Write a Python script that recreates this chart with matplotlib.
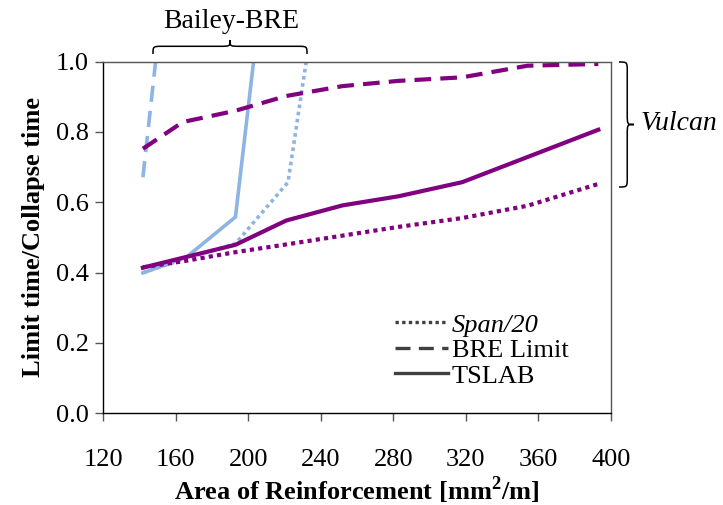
import matplotlib
matplotlib.use("Agg")
import matplotlib.pyplot as plt
from matplotlib.path import Path
from matplotlib.patches import PathPatch
from matplotlib.lines import Line2D

plt.rcParams['font.family'] = ['Liberation Serif', 'DejaVu Serif']
plt.rcParams['mathtext.fontset'] = 'custom'
plt.rcParams['mathtext.rm'] = 'Liberation Serif'
plt.rcParams['mathtext.bf'] = 'Liberation Serif:bold'

# ---- data ----
vul_x = [142, 164, 193, 221, 252, 283, 318, 354, 393]
vul_bre = [0.752, 0.828, 0.860, 0.902, 0.930, 0.945, 0.955, 0.988, 0.993]
vul_span = [0.415, 0.432, 0.458, 0.480, 0.505, 0.530, 0.555, 0.590, 0.652]
tslab_x = [142, 193, 221, 252, 283, 318, 393]
tslab_y = [0.414, 0.479, 0.548, 0.591, 0.617, 0.657, 0.806]

bb_tslab_x = [142, 166, 193, 203]
bb_tslab_y = [0.399, 0.444, 0.558, 1.0]
bb_span_x = [142, 166, 193, 222, 232]
bb_span_y = [0.400, 0.440, 0.482, 0.657, 1.0]
bb_bre_x = [142, 149]
bb_bre_y = [0.671, 1.0]

xticks = [120, 160, 200, 240, 280, 320, 360, 400]
yticks = [0.0, 0.2, 0.4, 0.6, 0.8, 1.0]

PURPLE = '#800080'
BLUE = '#8DB4E2'
W, H = 723, 505

fig = plt.figure(figsize=(W / 100, H / 100), dpi=100)
ax = fig.add_axes([103 / W, 1 - 413.3 / H, (611 - 103) / W, (413.3 - 61.5) / H])

lw_p = 3.0
lw_b = 2.6
ax.plot(bb_span_x, bb_span_y, color=BLUE, lw=lw_b, dashes=(1.0, 1.0), dash_capstyle='butt')
ax.plot(bb_bre_x, bb_bre_y, color=BLUE, lw=lw_b, dashes=(4.5, 2.5), dash_capstyle='butt')
ax.plot(bb_tslab_x, bb_tslab_y, color=BLUE, lw=lw_b, solid_joinstyle='miter')
ax.plot(vul_x, vul_span, color=PURPLE, lw=lw_p, dashes=(1.0, 1.0), dash_capstyle='butt')
ax.plot(vul_x, vul_bre, color=PURPLE, lw=lw_p, dashes=(4.0, 2.2), dash_capstyle='butt')
ax.plot(tslab_x, tslab_y, color=PURPLE, lw=lw_p)

ax.set_xlim(120, 400)
ax.set_ylim(0, 1.0)
ax.set_xticks(xticks)
ax.set_yticks(yticks)
ax.set_xticklabels([str(v) for v in xticks])
ax.set_yticklabels([f"{v:.1f}" for v in yticks])
ax.tick_params(axis='both', direction='out', length=6, width=1.0, color='#555555',
               labelsize=19, labelcolor='black')
ax.tick_params(axis='x', pad=20)
ax.tick_params(axis='y', pad=4)
for s in ['left', 'bottom']:
    ax.spines[s].set_color('black')
    ax.spines[s].set_linewidth(1.0)
for s in ['top', 'right']:
    ax.spines[s].set_color('#555555')
    ax.spines[s].set_linewidth(1.0)

ax.set_xlabel(r'Area of Reinforcement [mm$^\mathbf{2}$/m]', fontsize=19, fontweight='bold', labelpad=2)
ax.set_ylabel('Limit time/Collapse time', fontsize=19, fontweight='bold', labelpad=8)

handles = [Line2D([], [], color='#404040', lw=2.4, dashes=(1, 1), dash_capstyle='butt'),
           Line2D([], [], color='#404040', lw=2.4, dashes=(4.5, 2.5), dash_capstyle='butt'),
           Line2D([], [], color='#404040', lw=2.4)]
labels = ['Span/20', 'BRE Limit', 'TSLAB']
leg = ax.legend(handles, labels, loc='upper left', bbox_to_anchor=(0.575, 0.285),
                frameon=False, fontsize=19, handlelength=2.0, handletextpad=0.15,
                labelspacing=0.08, borderpad=0, borderaxespad=0)
leg.get_texts()[0].set_fontstyle('italic')

# ---- braces (figure pixel coords, y measured from top) ----
def px(x, y):
    return (x / W, 1 - y / H)

def hbrace(x0, x1, y_end, y_tip):
    xm = (x0 + x1) / 2
    d = (y_end - y_tip)
    yb = y_tip + d * 0.45
    r = 10
    verts = [px(x0, y_end), px(x0, yb), px(x0, yb), px(x0 + r, yb),
             px(xm - r, yb), px(xm, yb), px(xm, yb), px(xm, y_tip),
             px(xm, yb), px(xm, yb), px(xm + r, yb),
             px(x1 - r, yb), px(x1, yb), px(x1, yb), px(x1, y_end)]
    codes = [Path.MOVETO, Path.CURVE4, Path.CURVE4, Path.CURVE4,
             Path.LINETO, Path.CURVE4, Path.CURVE4, Path.CURVE4,
             Path.CURVE4, Path.CURVE4, Path.CURVE4,
             Path.LINETO, Path.CURVE4, Path.CURVE4, Path.CURVE4]
    fig.patches.append(PathPatch(Path(verts, codes), transform=fig.transFigure,
                                 fill=False, lw=1.1, color='black'))

def vbrace(y0, y1, x_end, x_tip):
    ym = (y0 + y1) / 2
    d = x_tip - x_end
    xb = x_end + d * 0.55
    r = 10
    verts = [px(x_end, y0), px(xb, y0), px(xb, y0), px(xb, y0 + r),
             px(xb, ym - r), px(xb, ym), px(xb, ym), px(x_tip, ym),
             px(xb, ym), px(xb, ym), px(xb, ym + r),
             px(xb, y1 - r), px(xb, y1), px(xb, y1), px(x_end, y1)]
    codes = [Path.MOVETO, Path.CURVE4, Path.CURVE4, Path.CURVE4,
             Path.LINETO, Path.CURVE4, Path.CURVE4, Path.CURVE4,
             Path.CURVE4, Path.CURVE4, Path.CURVE4,
             Path.LINETO, Path.CURVE4, Path.CURVE4, Path.CURVE4]
    fig.patches.append(PathPatch(Path(verts, codes), transform=fig.transFigure,
                                 fill=False, lw=1.1, color='black'))

hbrace(153, 307, 54, 40)
vbrace(62, 187, 619, 634)
fig.text(*px(231, 22), 'Bailey-BRE', fontsize=20, ha='center', va='center')
fig.text(*px(641, 124), 'Vulcan', fontsize=20, fontstyle='italic', ha='left', va='center')

fig.savefig('out.png', dpi=100)
